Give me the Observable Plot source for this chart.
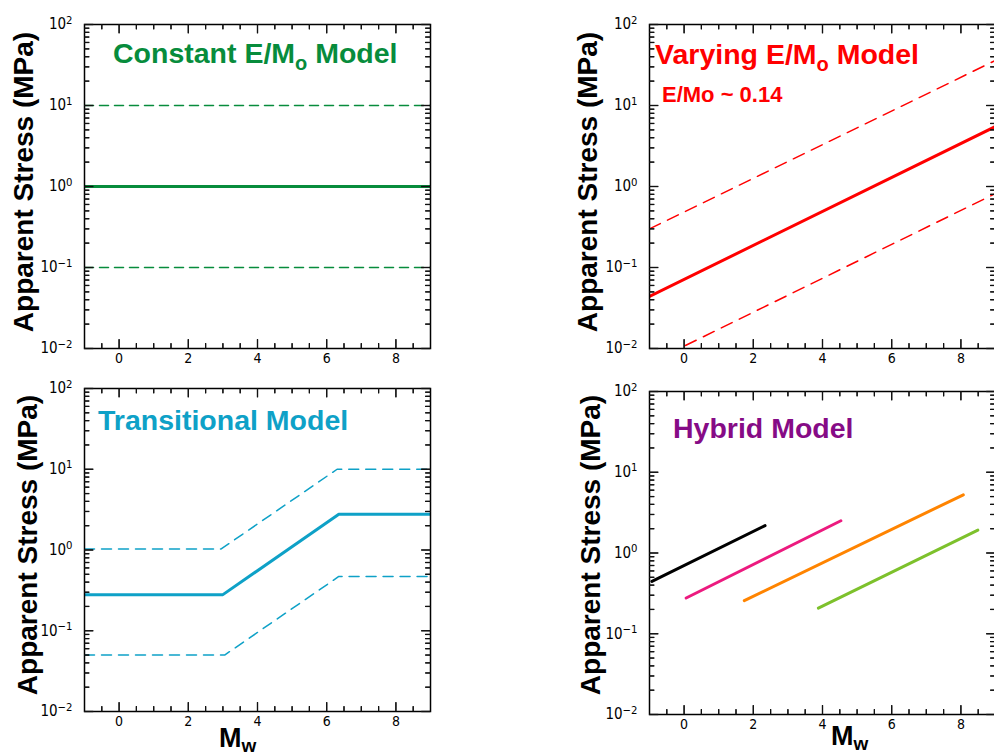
<!DOCTYPE html>
<html>
<head>
<meta charset="utf-8">
<script src="https://cdn.jsdelivr.net/npm/d3@7"></script>
<script src="https://cdn.jsdelivr.net/npm/@observablehq/plot@0.6"></script>
<style>
  html, body { margin: 0; padding: 0; background: #fff; overflow: hidden; }
  #page { position: relative; width: 994px; height: 755px; overflow: hidden; }
  .panel { position: absolute; width: 460px; }
  .panel svg { max-width: none !important; }
  #overlay { position: absolute; left: 0; top: 0; pointer-events: none; }
  #overlay text { font-family: "Liberation Sans", Arial, Helvetica, sans-serif; font-weight: bold; }
</style>
</head>
<body>
<div id="page">
  <div class="panel" id="p1" style="left:0px;top:0px"></div>
  <div class="panel" id="p2" style="left:560px;top:0px"></div>
  <div class="panel" id="p3" style="left:0px;top:364px"></div>
  <div class="panel" id="p4" style="left:560px;top:367px"></div>
  <svg id="overlay" width="994" height="755">
    <text x="113" y="63" font-size="28.5" fill="#078c3c">Constant E/M<tspan font-size="20" dy="7">o</tspan><tspan dy="-7"> Model</tspan></text>
    <text x="655" y="64" font-size="28.5" fill="#ff0000">Varying E/M<tspan font-size="20" dy="7">o</tspan><tspan dy="-7"> Model</tspan></text>
    <text x="662" y="102" font-size="22" fill="#ff0000">E/Mo ~ 0.14</text>
    <text x="98" y="430" font-size="28.5" fill="#0ea1c7">Transitional Model</text>
    <text x="673" y="438" font-size="28.5" fill="#860b86">Hybrid Model</text>
    <text transform="translate(33,182) rotate(-90)" text-anchor="middle" font-size="28" fill="#000">Apparent Stress (MPa)</text>
    <text transform="translate(597,182) rotate(-90)" text-anchor="middle" font-size="28" fill="#000">Apparent Stress (MPa)</text>
    <text transform="translate(37,545) rotate(-90)" text-anchor="middle" font-size="28" fill="#000">Apparent Stress (MPa)</text>
    <text transform="translate(600,545) rotate(-90)" text-anchor="middle" font-size="28" fill="#000">Apparent Stress (MPa)</text>
    <text x="219" y="747" font-size="27" fill="#000">M<tspan font-size="19" dy="5">w</tspan></text>
    <text x="831" y="745" font-size="27" fill="#000">M<tspan font-size="19" dy="5">w</tspan></text>
  </svg>
</div>
<script>
// ---------- tick values ----------
const xMajor = [0, 2, 4, 6, 8];
const xMinor = [-0.5, 0.5, 1, 1.5, 2.5, 3, 3.5, 4.5, 5, 5.5, 6.5, 7, 7.5, 8.5];
const yMajor = [0.01, 0.1, 1, 10, 100];
const yMajorLabels = ["10^-2", "10^-1", "10^0", "10^1", "10^2"];
const yMinor = [0.02, 0.03, 0.04, 0.05, 0.06, 0.07, 0.08, 0.09,
                0.2, 0.3, 0.4, 0.5, 0.6, 0.7, 0.8, 0.9,
                2, 3, 4, 5, 6, 7, 8, 9,
                20, 30, 40, 50, 60, 70, 80, 90];
const xDomain = [-1, 9];
const yDomain = [0.01, 100];

// ---------- Panel 1: Constant E/Mo model ----------
const constMw = [-1, 9];
const constMid = [1, 1];
const constHigh = [10, 10];
const constLow = [0.1, 0.1];

// ---------- Panel 2: Varying E/Mo model ----------
const varyMw = [-1, 9];
const varyMid = [0.044, 5.5];
const varyHigh = [0.30, 36];
const varyLow = [0.0066, 0.82];

// ---------- Panel 3: Transitional model ----------
const transMidMw = [-1, 3.0, 6.35, 9];
const transMid = [0.28, 0.28, 2.77, 2.77];
const transHighMw = [-1, 2.95, 6.3, 9];
const transHigh = [1.03, 1.03, 10, 10];
const transLowMw = [-1, 3.05, 6.35, 9];
const transLow = [0.05, 0.05, 0.47, 0.47];

// ---------- Panel 4: Hybrid model ----------
const hybBlackMw = [-0.93, 2.34];
const hybBlack = [0.446, 2.18];
const hybPinkMw = [0.06, 4.53];
const hybPink = [0.277, 2.51];
const hybOrangeMw = [1.74, 8.07];
const hybOrange = [0.257, 5.26];
const hybGreenMw = [3.88, 8.49];
const hybGreen = [0.208, 1.92];

const rows = (xs, ys) => xs.map((x, i) => ({mw: x, s: ys[i]}));

const tickFont = '"Liberation Sans Narrow", "Arial Narrow", "DejaVu Sans Condensed", sans-serif';

// Inward tick segments expressed in the panel's own scale units (from the tick arrays)
function tickSegments(fw, fh, MJ, MN) {
  const upx = fw / (xDomain[1] - xDomain[0]);                 // px per Mw unit
  const dpx = fh / Math.log10(yDomain[1] / yDomain[0]);       // px per decade
  const segs = [];
  let id = 0;
  const xs = [...xMajor.map(v => [v, MJ]), ...xMinor.map(v => [v, MN])];
  const ys = [...yMajor.map(v => [v, MJ]), ...yMinor.map(v => [v, MN])];
  for (const [v, L] of xs) {
    const f = Math.pow(10, L / dpx);
    segs.push({id: id, mw: v, s: yDomain[0]}, {id: id++, mw: v, s: yDomain[0] * f});
    segs.push({id: id, mw: v, s: yDomain[1]}, {id: id++, mw: v, s: yDomain[1] / f});
  }
  for (const [v, L] of ys) {
    const d = L / upx;
    segs.push({id: id, mw: xDomain[0], s: v}, {id: id++, mw: xDomain[0] + d, s: v});
    segs.push({id: id, mw: xDomain[1], s: v}, {id: id++, mw: xDomain[1] - d, s: v});
  }
  return segs;
}

function axes(fw, fh) {
  const lab = new Map(yMajor.map((v, i) => [v, yMajorLabels[i]]));
  const MJ = 9, MN = 5, tk = {stroke: "#111", strokeWidth: 1.2};
  return [
    Plot.frame({stroke: "#000", strokeWidth: 1.5}),
    // tick labels
    Plot.axisX({anchor: "bottom", ticks: xMajor, tickSize: 0, tickPadding: 5, tickFormat: d => String(d), label: null, fontSize: 14}),
    Plot.axisY({anchor: "left", ticks: yMajor, tickSize: 0, tickPadding: 12, tickFormat: d => lab.get(d), label: null, fontSize: 15}),
    // inward ticks drawn as short segments
    Plot.line(tickSegments(fw, fh, MJ, MN), {x: "mw", y: "s", z: "id", stroke: "#111", strokeWidth: 1.2, strokeLinecap: "butt"}),
    // inward ticks (tick marks, same positions)
    Plot.tickX(xMajor, {x: d => d, insetTop: fh - MJ, ...tk}),
    Plot.tickX(xMinor, {x: d => d, insetTop: fh - MN, ...tk}),
    Plot.tickX(xMajor, {x: d => d, insetBottom: fh - MJ, ...tk}),
    Plot.tickX(xMinor, {x: d => d, insetBottom: fh - MN, ...tk}),
    Plot.tickY(yMajor, {y: d => d, insetRight: fw - MJ, ...tk}),
    Plot.tickY(yMinor, {y: d => d, insetRight: fw - MN, ...tk}),
    Plot.tickY(yMajor, {y: d => d, insetLeft: fw - MJ, ...tk}),
    Plot.tickY(yMinor, {y: d => d, insetLeft: fw - MN, ...tk})
  ];
}

function panel(el, opts, marks) {
  const fw = opts.width - opts.marginLeft - opts.marginRight;
  const fh = opts.height - opts.marginTop - opts.marginBottom;
  const chart = Plot.plot({
    width: opts.width,
    height: opts.height,
    marginLeft: opts.marginLeft,
    marginRight: opts.marginRight,
    marginTop: opts.marginTop,
    marginBottom: opts.marginBottom,
    x: {domain: xDomain},
    y: {type: "log", domain: yDomain},
    style: {fontFamily: tickFont, background: "transparent", color: "#000", overflow: "visible", maxWidth: "none"},
    marks: [...marks, ...axes(fw, fh)]
  });
  // superscript exponents on the y tick labels
  d3.select(chart).selectAll("text").each(function () {
    const t = this.textContent;
    if (!t || t.indexOf("^") < 0) return;
    const [base, exp] = t.split("^");
    const sel = d3.select(this);
    sel.text(null);
    sel.append("tspan").text(base);
    sel.append("tspan").attr("dy", "-0.5em").attr("font-size", "0.75em").text(exp.replace("-", "\u2212"));
  });
  document.getElementById(el).appendChild(chart);
}

const solid = 3, dashW = 1.5;

// Panel 1
const cGreen = "#078c3c";
panel("p1", {width: 440, height: 370, marginLeft: 84, marginRight: 10, marginTop: 24, marginBottom: 22}, [
  Plot.line(rows(constMw, constHigh), {x: "mw", y: "s", stroke: cGreen, strokeWidth: dashW, strokeDasharray: "9,6", clip: true}),
  Plot.line(rows(constMw, constLow), {x: "mw", y: "s", stroke: cGreen, strokeWidth: dashW, strokeDasharray: "9,6", clip: true}),
  Plot.line(rows(constMw, constMid), {x: "mw", y: "s", stroke: cGreen, strokeWidth: solid, clip: true})
]);

// Panel 2
const cRed = "#ff0000";
panel("p2", {width: 450, height: 370, marginLeft: 89, marginRight: 15, marginTop: 24, marginBottom: 22}, [
  Plot.line(rows(varyMw, varyHigh), {x: "mw", y: "s", stroke: cRed, strokeWidth: dashW, strokeDasharray: "12,8", clip: true}),
  Plot.line(rows(varyMw, varyLow), {x: "mw", y: "s", stroke: cRed, strokeWidth: dashW, strokeDasharray: "12,8", clip: true}),
  Plot.line(rows(varyMw, varyMid), {x: "mw", y: "s", stroke: cRed, strokeWidth: solid, clip: true})
]);

// Panel 3
const cCyan = "#0ea1c7";
panel("p3", {width: 440, height: 370, marginLeft: 84, marginRight: 10, marginTop: 24, marginBottom: 23}, [
  Plot.line(rows(transHighMw, transHigh), {x: "mw", y: "s", stroke: cCyan, strokeWidth: dashW, strokeDasharray: "10,7", clip: true}),
  Plot.line(rows(transLowMw, transLow), {x: "mw", y: "s", stroke: cCyan, strokeWidth: dashW, strokeDasharray: "10,7", clip: true}),
  Plot.line(rows(transMidMw, transMid), {x: "mw", y: "s", stroke: cCyan, strokeWidth: solid, clip: true})
]);

// Panel 4
panel("p4", {width: 450, height: 370, marginLeft: 89, marginRight: 15, marginTop: 24, marginBottom: 23}, [
  Plot.line(rows(hybBlackMw, hybBlack), {x: "mw", y: "s", stroke: "#000000", strokeWidth: solid, clip: true}),
  Plot.line(rows(hybPinkMw, hybPink), {x: "mw", y: "s", stroke: "#ec1a7f", strokeWidth: solid, clip: true}),
  Plot.line(rows(hybOrangeMw, hybOrange), {x: "mw", y: "s", stroke: "#ff8400", strokeWidth: solid, clip: true}),
  Plot.line(rows(hybGreenMw, hybGreen), {x: "mw", y: "s", stroke: "#7dc12c", strokeWidth: solid, clip: true})
]);
</script>
</body>
</html>
